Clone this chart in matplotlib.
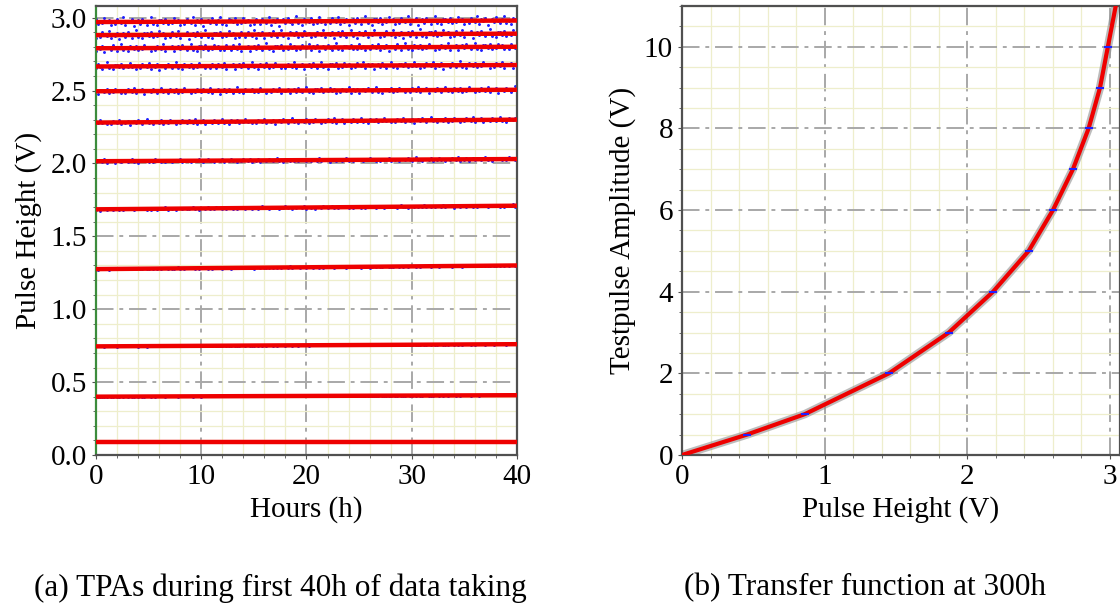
import numpy as np
import matplotlib.pyplot as plt
from matplotlib.ticker import MultipleLocator

plt.rcParams['font.family'] = ['Liberation Serif', 'DejaVu Serif']

# (a) pulse height of each testpulse step at 0 h and at 40 h
tpa_start = [0.09, 0.40, 0.745, 1.275, 1.685, 2.015, 2.28, 2.495, 2.665, 2.79, 2.88, 2.97]
tpa_end = [0.09, 0.41, 0.76, 1.30, 1.71, 2.03, 2.30, 2.505, 2.675, 2.80, 2.89, 2.98]
tpa_spread = [0.001, 0.001, 0.002, 0.004, 0.006, 0.008, 0.011, 0.013, 0.015, 0.016, 0.018, 0.019]
hours = np.arange(0, 40.01, 0.2)
jitter = [0.3, -0.8, 1.0, 0.1, -0.4, 1.6, -1.2, 0.5, -0.2, 0.9, -1.5, 0.2, 0.7,
          -0.6, 1.2, -0.1, -1.0, 0.4, 1.8, -0.7, 0.0, -1.3, 0.8, 0.6, -0.3, 1.1, -0.9,
          0.2, -0.5, 1.4, -0.1, 0.6, -1.1]

# (b) transfer function: pulse height vs testpulse amplitude
tf_ph = [0.0, 0.455, 0.86, 1.45, 1.87, 2.18, 2.43, 2.60, 2.74, 2.85, 2.93, 2.985, 3.04]
tf_amp = [0, 0.5, 1, 2, 3, 4, 5, 6, 7, 8, 9, 10, 11]

fig = plt.figure(figsize=(11.2, 6.09), dpi=100)
ax1 = fig.add_axes([0.0857, 0.2529, 0.3759, 0.7373])
ax2 = fig.add_axes([0.609, 0.2529, 0.391, 0.7373])

def style(ax):
    ax.set_facecolor('white')
    ax.grid(which='minor', color='#eeeecc', lw=0.9)
    ax.grid(which='major', color='#a8a8a8', lw=1.4, linestyle=(0, (9, 3, 2, 3)))
    ax.set_axisbelow(True)
    for s in ax.spines.values():
        s.set_color('#505050')
        s.set_linewidth(1.6)
    ax.tick_params(which='both', direction='out', length=3, color='#505050', labelsize=21)
    ax.tick_params(which='minor', length=2)

style(ax1)
for k in range(len(tpa_start)):
    line = np.interp(hours, [0, 40], [tpa_start[k], tpa_end[k]])
    dev = np.roll(np.resize(jitter, len(hours)), 7 * k) * tpa_spread[k]
    ax1.plot(hours, line + dev, '.', color='#2020ff', ms=2.2, zorder=2)
    ax1.plot([0, 40], [tpa_start[k], tpa_end[k]], color='#ee0000', lw=3.2, zorder=3)
ax1.set_xlim(0, 40)
ax1.set_ylim(0, 3.08)
ax1.xaxis.set_major_locator(MultipleLocator(10))
ax1.xaxis.set_minor_locator(MultipleLocator(2))
ax1.yaxis.set_major_locator(MultipleLocator(0.5))
ax1.yaxis.set_minor_locator(MultipleLocator(0.1))
ax1.yaxis.set_major_formatter(plt.FormatStrFormatter('%.1f'))
ax1.spines['left'].set_color('#3c8c3c')
ax1.set_xlabel('Hours (h)', fontsize=21, labelpad=4)
ax1.set_ylabel('Pulse Height (V)', fontsize=21, labelpad=6)

style(ax2)
ax2.plot(tf_ph, tf_amp, color='#909090', lw=6, alpha=0.6, zorder=2)
ax2.plot(tf_ph, tf_amp, color='#ee0000', lw=3, zorder=3)
ax2.plot(tf_ph[1:-1], tf_amp[1:-1], '_', color='#2020ff', ms=6, mew=1.5, zorder=4)
ax2.set_xlim(0, 3.07)
ax2.set_ylim(0, 11.0)
ax2.xaxis.set_major_locator(MultipleLocator(1))
ax2.xaxis.set_minor_locator(MultipleLocator(0.2))
ax2.yaxis.set_major_locator(MultipleLocator(2))
ax2.yaxis.set_minor_locator(MultipleLocator(0.5))
ax2.set_xlabel('Pulse Height (V)', fontsize=21, labelpad=4)
ax2.set_ylabel('Testpulse Amplitude (V)', fontsize=21, labelpad=6)

fig.text(0.25, 0.022, '(a) TPAs during first 40h of data taking', fontsize=22.5, ha='center')
fig.text(0.772, 0.022, '(b) Transfer function at 300h', fontsize=22.5, ha='center')

fig.savefig('out.png', dpi=100)
